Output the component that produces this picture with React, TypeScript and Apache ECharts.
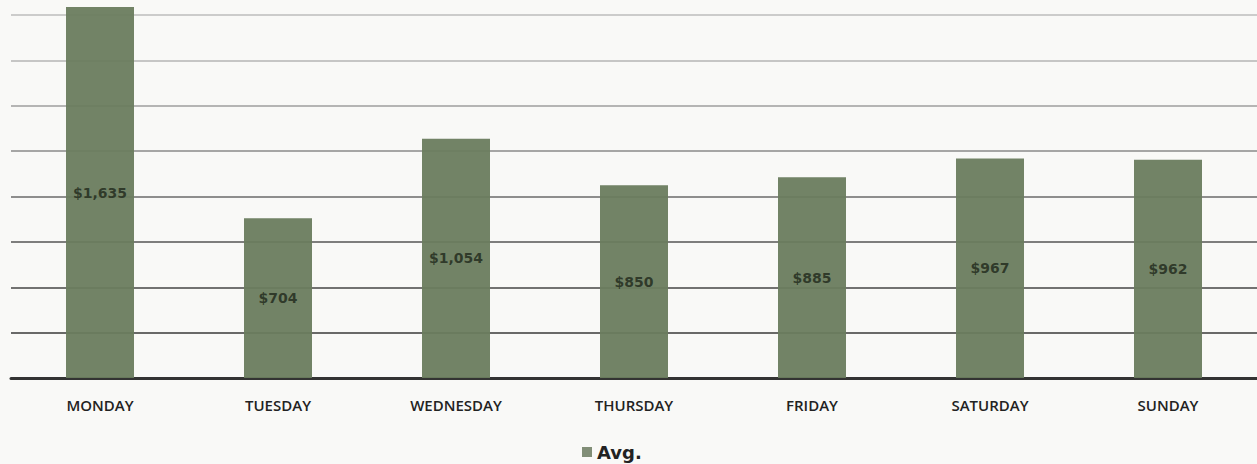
import React, { useEffect, useRef } from "react";
import * as echarts from "echarts";

const days = ["MONDAY", "TUESDAY", "WEDNESDAY", "THURSDAY", "FRIDAY", "SATURDAY", "SUNDAY"];
const avgValues = [1635, 704, 1054, 850, 885, 967, 962];
const gridColors = ["#2e2e2e", "#383838", "#444444", "#555555", "#6a6a6a", "#8a8a8a", "#9e9e9e", "#b4b4b4", "#bcbcbc"];

export default function App() {
  const ref = useRef<HTMLDivElement>(null);
  useEffect(() => {
    if (!ref.current) return;
    const chart = echarts.init(ref.current, null, { renderer: "svg" });
    chart.setOption({
      animation: false,
      backgroundColor: "#f9f9f7",
      grid: { left: 11, width: 1251, top: 15, bottom: 86, containLabel: false },
      legend: {
        data: ["Avg."],
        left: 582,
        top: 441,
        icon: "rect",
        itemWidth: 10,
        itemHeight: 10,
        itemGap: 7,
        padding: 0,
        itemStyle: { color: "#7a8870" },
        textStyle: { fontFamily: "DejaVu Sans", fontWeight: "bold", fontSize: 18, lineHeight: 22, color: "#222" },
      },
      xAxis: {
        type: "category",
        data: days,
        axisTick: { show: false },
        axisLine: { lineStyle: { color: "#333", width: 3 } },
        axisLabel: { margin: 19, fontFamily: "Open Sans", fontWeight: 600, fontSize: 15, color: "#222" },
      },
      yAxis: {
        type: "value",
        min: 0,
        max: 1600,
        interval: 200,
        axisLabel: { show: false },
        axisLine: { show: false },
        axisTick: { show: false },
        splitLine: { lineStyle: { color: gridColors, width: 1.6 } },
      },
      series: [
        {
          name: "Avg.",
          type: "bar",
          data: avgValues,
          barWidth: 68,
          clip: false,
          itemStyle: { color: "#6a7c5e", opacity: 0.95 },
          label: {
            show: true,
            position: "inside",
            formatter: (p: any) => "$" + Number(p.value).toLocaleString("en-US"),
            fontFamily: "DejaVu Sans",
            fontWeight: "bold",
            fontSize: 14,
            color: "#2c3626",
          },
        },
      ],
    });
    return () => chart.dispose();
  }, []);
  return <div ref={ref} style={{ position: "fixed", left: 0, top: 0, width: 1257, height: 464 }} />;
}
